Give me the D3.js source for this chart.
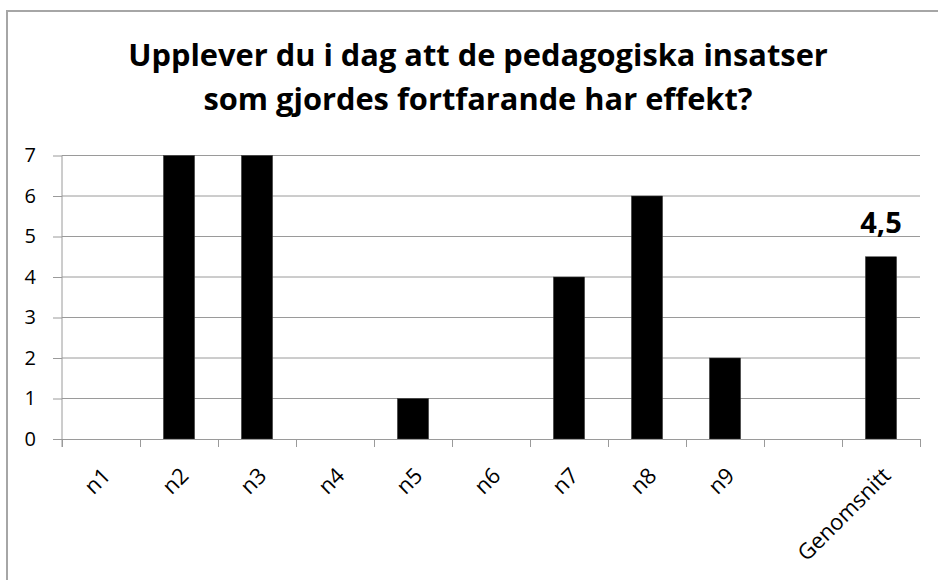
<!DOCTYPE html>
<html>
<head>
<meta charset="utf-8">
<script src="https://cdnjs.cloudflare.com/ajax/libs/d3/7.8.5/d3.min.js"></script>
<style>
  body { margin: 0; background: #fff; }
  svg { display: block; }
  svg text { font-family: "Open Sans", "Noto Sans", sans-serif; }
</style>
</head>
<body>
<div id="chart"></div>
<script>
  const titleLines = [
    "Upplever du i dag att de pedagogiska insatser",
    "som gjordes fortfarande har effekt?"
  ];
  const categories = ["n1", "n2", "n3", "n4", "n5", "n6", "n7", "n8", "n9", "", "Genomsnitt"];
  const values = [0, 7, 7, 0, 1, 0, 4, 6, 2, null, 4.5];
  const labelledCategories = ["Genomsnitt"];
  const yTicks = [0, 1, 2, 3, 4, 5, 6, 7];

  const width = 938;
  const height = 580;
  const margin = { top: 155.5, right: 18, bottom: 141, left: 62 };

  const svg = d3.select("#chart")
    .append("svg")
    .attr("width", width)
    .attr("height", height);

  // outer frame (right and bottom edges run off the picture)
  svg.append("rect")
    .attr("x", 7)
    .attr("y", 11)
    .attr("width", width)
    .attr("height", height)
    .attr("fill", "#fff")
    .attr("stroke", "#a6a6a6")
    .attr("stroke-width", 2);

  const idx = d3.range(categories.length);

  const x = d3.scaleBand()
    .domain(idx)
    .range([margin.left, width - margin.right])
    .paddingInner(0.6)
    .paddingOuter(0.3);

  const xEdge = d3.scaleLinear()
    .domain([0, categories.length])
    .range([margin.left, width - margin.right]);

  const y = d3.scaleLinear()
    .domain([0, d3.max(yTicks)])
    .range([height - margin.bottom, margin.top]);

  // gridlines
  svg.append("g")
    .selectAll("line")
    .data(yTicks.filter(d => d > 0))
    .join("line")
    .attr("x1", margin.left)
    .attr("x2", width - margin.right)
    .attr("y1", d => y(d))
    .attr("y2", d => y(d))
    .attr("stroke", "#9a9a9a")
    .attr("stroke-width", 1);

  // y axis
  const yAxis = svg.append("g")
    .attr("transform", `translate(${margin.left},0)`)
    .call(d3.axisLeft(y).tickValues(yTicks).tickFormat(d3.format("d"))
      .tickSize(9).tickPadding(17).tickSizeOuter(0));
  yAxis.select(".domain").remove();
  yAxis.append("line")
    .attr("y1", y(d3.max(yTicks)))
    .attr("y2", y(0) + 8)
    .attr("stroke", "#9a9a9a");
  yAxis.selectAll(".tick line").attr("stroke", "#9a9a9a");
  yAxis.selectAll(".tick text")
    .attr("fill", "#000")
    .attr("font-size", 20);

  // bars
  svg.append("g")
    .selectAll("rect")
    .data(idx.filter(i => values[i] != null && values[i] > 0))
    .join("rect")
    .attr("x", i => x(i))
    .attr("y", i => y(values[i]))
    .attr("width", x.bandwidth())
    .attr("height", i => y(0) - y(values[i]))
    .attr("fill", "#000")
    .attr("stroke", "#404040")
    .attr("stroke-width", 0.5);

  // x axis: tick marks on category edges
  const xAxis = svg.append("g")
    .attr("transform", `translate(0,${y(0)})`)
    .call(d3.axisBottom(xEdge).tickValues(d3.range(categories.length + 1)).tickFormat("").tickSize(8).tickSizeOuter(0));
  xAxis.selectAll("path, line").attr("stroke", "#9a9a9a");

  // x labels
  svg.append("g")
    .selectAll("text")
    .data(idx)
    .join("text")
    .attr("transform", i => `translate(${x(i) + x.bandwidth() / 2 + 11},${y(0) + 38}) rotate(-45)`)
    .attr("text-anchor", "end")
    .attr("font-size", 22)
    .attr("fill", "#000")
    .text(i => categories[i]);

  // value label
  const fmt = d3.formatLocale({ decimal: ",", thousands: " ", grouping: [3], currency: ["", ""] }).format(".1f");
  svg.append("g")
    .selectAll("text")
    .data(idx.filter(i => labelledCategories.includes(categories[i])))
    .join("text")
    .attr("x", i => x(i) + x.bandwidth() / 2)
    .attr("y", i => y(values[i]) - 24)
    .attr("text-anchor", "middle")
    .attr("font-size", 29)
    .attr("font-weight", "bold")
    .text(i => fmt(values[i]));

  // title
  const title = svg.append("text")
    .attr("text-anchor", "middle")
    .attr("font-size", 32)
    .attr("font-weight", "bold")
    .attr("fill", "#000");
  title.selectAll("tspan")
    .data(titleLines)
    .join("tspan")
    .attr("x", 478)
    .attr("y", (d, i) => 66 + i * 44)
    .text(d => d);
  const w = title.select("tspan").node().getComputedTextLength();
  title.attr("font-size", 32 * 700 / w);
</script>
</body>
</html>
